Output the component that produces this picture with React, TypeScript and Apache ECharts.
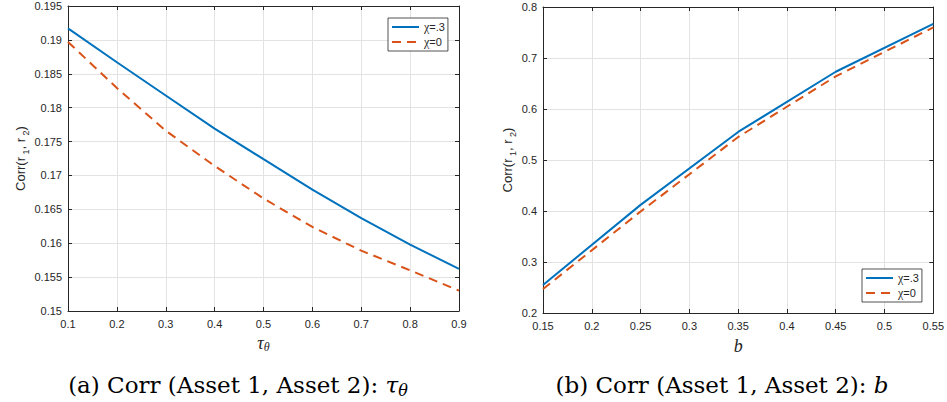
import React, { useEffect, useRef } from "react";
import * as echarts from "echarts";

// ---- data ----
const tauTheta = [0.1, 0.2, 0.3, 0.4, 0.5, 0.6, 0.7, 0.8, 0.9];
const tauChi3 = [0.1917, 0.1867, 0.1818, 0.1769, 0.1724, 0.1679, 0.1637, 0.1598, 0.1562];
const tauChi0 = [0.1897, 0.1829, 0.1766, 0.1714, 0.1666, 0.1624, 0.1589, 0.1560, 0.1530];

const bVals = [0.15, 0.25, 0.35, 0.45, 0.55];
const bChi3 = [0.255, 0.412, 0.555, 0.673, 0.767];
const bChi0 = [0.247, 0.399, 0.545, 0.664, 0.760];

const seriesNames = ["χ=.3", "χ=0"];
const captionA = "(a) Corr (Asset 1, Asset 2): ";
const captionB = "(b) Corr (Asset 1, Asset 2): ";

const BLUE = "#0072BD";
const RED = "#D95319";
const AX = "#262626";
const GRID = "#e3e3e3";
const SANS = "'Liberation Sans', Arial, sans-serif";
const SERIF = "'Liberation Serif', 'Times New Roman', serif";
const CAPSERIF = "'DejaVu Serif', serif";

function axisBase(extra: any) {
  return {
    type: "value",
    axisLine: { show: true, onZero: false, lineStyle: { color: AX, width: 1 } },
    axisTick: { show: true, inside: true, length: 4, lineStyle: { color: AX } },
    axisLabel: { show: false },
    splitLine: { show: false },
    ...extra,
  };
}

const labelStyle = { show: true, color: AX, fontFamily: SANS, fontSize: 11 };

const yNameRich = {
  a: { fontFamily: SANS, fontSize: 13, color: AX, lineHeight: 20, verticalAlign: "middle" },
  s: { fontFamily: SANS, fontSize: 9, color: AX, lineHeight: 9, verticalAlign: "bottom" },
};
const yName = "{a|Corr(r}{s| 1}{a|, r}{s| 2}{a|)}";

export default function App() {
  const ref = useRef<HTMLDivElement>(null);
  useEffect(() => {
    if (!ref.current) return;
    const chart = echarts.init(ref.current, null, { renderer: "svg" });
    const grids = [
      { left: 68, top: 6, width: 391, height: 305 },
      { left: 543, top: 7, width: 391, height: 306 },
    ];
    const xAxis: any[] = [
      axisBase({
        gridIndex: 0, position: "bottom", min: 0.1, max: 0.9, interval: 0.1,
        axisLabel: { ...labelStyle, margin: 7 },
        splitLine: { show: true, lineStyle: { color: GRID, width: 1 } },
        name: "{i|τ}{s|θ}", nameLocation: "middle", nameGap: 18,
        nameTextStyle: {
          rich: {
            i: { fontFamily: SERIF, fontStyle: "italic", fontSize: 18, color: AX, lineHeight: 20, verticalAlign: "middle" },
            s: { fontFamily: SERIF, fontStyle: "italic", fontSize: 12, color: AX, lineHeight: 10, verticalAlign: "bottom" },
          },
        },
      }),
      axisBase({ gridIndex: 0, position: "top", min: 0.1, max: 0.9, interval: 0.1 }),
      axisBase({
        gridIndex: 1, position: "bottom", min: 0.15, max: 0.55, interval: 0.05,
        axisLabel: { ...labelStyle, margin: 7 },
        splitLine: { show: true, lineStyle: { color: GRID, width: 1 } },
        name: "b", nameLocation: "middle", nameGap: 24,
        nameTextStyle: { fontFamily: SERIF, fontStyle: "italic", fontSize: 18, color: AX },
      }),
      axisBase({ gridIndex: 1, position: "top", min: 0.15, max: 0.55, interval: 0.05 }),
    ];
    const yAxis: any[] = [
      axisBase({
        gridIndex: 0, position: "left", min: 0.15, max: 0.195, interval: 0.005,
        axisLabel: { ...labelStyle, margin: 6 },
        splitLine: { show: true, lineStyle: { color: GRID, width: 1 } },
        name: yName, nameLocation: "middle", nameGap: 36, nameRotate: 90,
        nameTextStyle: { rich: yNameRich },
      }),
      axisBase({ gridIndex: 0, position: "right", min: 0.15, max: 0.195, interval: 0.005 }),
      axisBase({
        gridIndex: 1, position: "left", min: 0.2, max: 0.8, interval: 0.1,
        axisLabel: { ...labelStyle, margin: 6 },
        splitLine: { show: true, lineStyle: { color: GRID, width: 1 } },
        name: yName, nameLocation: "middle", nameGap: 26, nameRotate: 90,
        nameTextStyle: { rich: yNameRich },
      }),
      axisBase({ gridIndex: 1, position: "right", min: 0.2, max: 0.8, interval: 0.1 }),
    ];
    const mk = (name: string, xs: number[], ys: number[], xi: number, yi: number, dashed: boolean) => ({
      type: "line",
      name,
      xAxisIndex: xi,
      yAxisIndex: yi,
      data: xs.map((x, i) => [x, ys[i]]),
      symbol: "none",
      showSymbol: false,
      z: 5,
      lineStyle: dashed
        ? { color: RED, width: 2, type: [9, 6] }
        : { color: BLUE, width: 2, type: "solid" },
      itemStyle: { color: dashed ? RED : BLUE },
    });
    const legendText = {
      fontSize: 11,
      color: AX,
      rich: {
        g: { fontFamily: SERIF, fontSize: 12, color: AX },
        t: { fontFamily: SANS, fontSize: 11, color: AX },
      },
    };
    const legendBase = {
      data: seriesNames,
      orient: "vertical",
      itemWidth: 27,
      itemHeight: 10,
      itemGap: 3,
      padding: [3, 3, 3, 3],
      borderColor: AX,
      borderWidth: 0.8,
      backgroundColor: "#ffffff",
      borderRadius: 0,
      selectedMode: false,
      itemStyle: { color: "rgba(0,0,0,0)", borderWidth: 0, opacity: 0 },
      formatter: (n: string) => `{g|χ}{t|${n.slice(1)}}`,
      textStyle: legendText,
    };
    const capRich = {
      n: { fontFamily: CAPSERIF, fontSize: 23, color: "#111" },
      i: { fontFamily: CAPSERIF, fontStyle: "italic", fontSize: 23, color: "#111" },
      s: { fontFamily: CAPSERIF, fontStyle: "italic", fontSize: 16, color: "#111", padding: [10, 0, 0, 0] },
    };
    chart.setOption({
      animation: false,
      backgroundColor: "#ffffff",
      grid: grids,
      xAxis,
      yAxis,
      legend: [
        { ...legendBase, left: 388, top: 18 },
        { ...legendBase, left: 862, top: 269 },
      ],
      series: [
        mk(seriesNames[0], tauTheta, tauChi3, 0, 0, false),
        mk(seriesNames[1], tauTheta, tauChi0, 0, 0, true),
        mk(seriesNames[0], bVals, bChi3, 2, 2, false),
        mk(seriesNames[1], bVals, bChi0, 2, 2, true),
      ],
      graphic: [
        {
          type: "text", x: 238, y: 385,
          style: { text: `{n|${captionA}}{i|τ}{s|θ}`, rich: capRich, align: "center", verticalAlign: "middle" },
        },
        {
          type: "text", x: 722, y: 385,
          style: { text: `{n|${captionB}}{i|b}`, rich: capRich, align: "center", verticalAlign: "middle" },
        },
      ],
    });
    return () => chart.dispose();
  }, []);
  return (
    <div
      ref={ref}
      style={{ position: "fixed", left: 0, top: 0, width: 947, height: 402, background: "#fff" }}
    />
  );
}
